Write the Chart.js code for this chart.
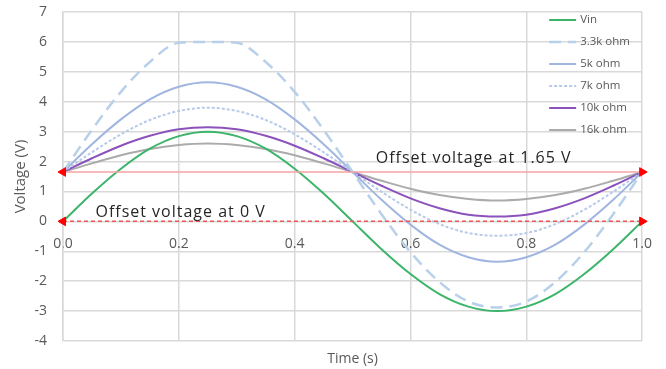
<!DOCTYPE html>
<html>
<head>
<meta charset="utf-8">
<script src="https://cdn.jsdelivr.net/npm/chart.js@4.4.1/dist/chart.umd.min.js"></script>
<style>
  html, body { margin: 0; padding: 0; background: #fff; }
  #wrap { width: 666px; height: 369px; }
</style>
</head>
<body>
<div id="wrap"><canvas id="chart_1" width="666" height="369"></canvas></div>
<script>
// time samples (s)
let times = [0, 0.05, 0.1, 0.15, 0.2, 0.25, 0.3, 0.35, 0.4, 0.45, 0.5,
             0.55, 0.6, 0.65, 0.7, 0.75, 0.8, 0.85, 0.9, 0.95, 1.0];

// voltages (V)
let vin   = [0, 0.93, 1.76, 2.43, 2.85, 3.0, 2.85, 2.43, 1.76, 0.93, 0, -0.93, -1.76, -2.43, -2.85, -3.0, -2.85, -2.43, -1.76, -0.93, 0];
let r3k3  = [1.65, 3.06, 4.33, 5.33, 5.97, 6.0, 5.97, 5.33, 4.33, 3.06, 1.65, 0.24, -1.03, -2.03, -2.68, -2.88, -2.68, -2.03, -1.03, 0.24, 1.65];
let r5k   = [1.65, 2.58, 3.41, 4.08, 4.50, 4.65, 4.50, 4.08, 3.41, 2.58, 1.65, 0.72, -0.11, -0.78, -1.20, -1.35, -1.20, -0.78, -0.11, 0.72, 1.65];
let r7k   = [1.65, 2.31, 2.91, 3.39, 3.69, 3.80, 3.69, 3.39, 2.91, 2.31, 1.65, 0.99, 0.39, -0.09, -0.39, -0.48, -0.39, -0.09, 0.39, 0.99, 1.65];
let r10k  = [1.65, 2.11, 2.53, 2.86, 3.08, 3.15, 3.08, 2.86, 2.53, 2.11, 1.65, 1.19, 0.77, 0.44, 0.22, 0.16, 0.22, 0.44, 0.77, 1.19, 1.65];
let r16k  = [1.65, 1.94, 2.21, 2.42, 2.55, 2.60, 2.55, 2.42, 2.21, 1.94, 1.65, 1.36, 1.09, 0.88, 0.75, 0.70, 0.75, 0.88, 1.09, 1.36, 1.65];

let offsetHigh = [1.65, 1.65];
let offsetLow  = [0, 0];
let offsetTimes = [0, 1.0];

let seriesNames = ['Vin', '3.3k ohm', '5k ohm', '7k ohm', '10k ohm', '16k ohm'];
let yTicks = [-4, -3, -2, -1, 0, 1, 2, 3, 4, 5, 6, 7];

const FONT = '"Open Sans", Lato, sans-serif';
const GRID = '#d9d9d9';

function pts(xs, ys) {
    return xs.map((t, i) => ({x: t, y: ys[i]}));
}

function curve(label, ys, color, width, dash) {
    return {
        label: label,
        data: pts(times, ys),
        borderColor: color,
        backgroundColor: color,
        borderWidth: width,
        borderDash: dash,
        pointRadius: 0,
        fill: false,
        cubicInterpolationMode: 'monotone',
        order: 2
    };
}

function offsetLine(ys, color, dash) {
    return {
        label: '',
        data: pts(offsetTimes, ys),
        borderColor: color,
        borderWidth: 1.5,
        borderDash: dash,
        pointStyle: 'triangle',
        pointRadius: 5,
        pointRotation: [-90, 90],
        pointBackgroundColor: '#ff0000',
        pointBorderColor: '#ff0000',
        pointBorderWidth: 1,
        fill: false,
        clip: false,
        order: 1
    };
}

// legend and text labels drawn inside the plot area
const overlay = {
    id: 'overlay',
    afterDatasetsDraw(chart) {
        const ctx = chart.ctx;
        const area = chart.chartArea;
        const xs = chart.scales.x, ys = chart.scales.y;
        ctx.save();
        // legend
        ctx.font = '11.5px ' + FONT;
        ctx.textBaseline = 'middle';
        ctx.textAlign = 'left';
        chart.data.datasets.forEach((ds, i) => {
            if (!ds.label) return;
            const y = area.top + 8 + i * 22;
            const x0 = area.right - 93;
            ctx.beginPath();
            ctx.strokeStyle = ds.borderColor;
            ctx.lineWidth = ds.borderWidth;
            ctx.setLineDash(ds.borderDash || []);
            ctx.moveTo(x0, y);
            ctx.lineTo(x0 + 27, y);
            ctx.stroke();
            ctx.setLineDash([]);
            ctx.fillStyle = '#595959';
            ctx.fillText(ds.label, x0 + 31, y);
        });
        // offset labels
        ctx.font = '16px ' + FONT;
        ctx.letterSpacing = '1px';
        ctx.fillStyle = '#262626';
        ctx.fillText('Offset voltage at 1.65 V', xs.getPixelForValue(0.54), ys.getPixelForValue(2.1));
        ctx.fillText('Offset voltage at 0 V', xs.getPixelForValue(0.056), ys.getPixelForValue(0.3));
        ctx.restore();
    }
};

var chart1 = new Chart(document.getElementById('chart_1'), {
    type: 'line',
    data: {
        datasets: [
            curve(seriesNames[0], vin, '#3cb56a', 2, []),
            curve(seriesNames[1], r3k3, '#b8d0ea', 2.5, [12, 7]),
            curve(seriesNames[2], r5k, '#a0b6e0', 2, []),
            curve(seriesNames[3], r7k, '#b8cae9', 2, [3, 2]),
            curve(seriesNames[4], r10k, '#8c52bc', 2, []),
            curve(seriesNames[5], r16k, '#ababab', 2, []),
            offsetLine(offsetHigh, '#f5a3a3', []),
            offsetLine(offsetLow, '#ee5555', [4, 3])
        ]
    },
    options: {
        responsive: false,
        animation: false,
        layout: {
            padding: {left: 0, right: 22, top: 12, bottom: 0}
        },
        plugins: {
            legend: {display: false},
            tooltip: {enabled: false}
        },
        scales: {
            x: {
                type: 'linear',
                min: 0,
                max: 1,
                position: {y: 0},
                afterFit: (s) => { s.height = 0; },
                grid: {color: GRID, lineWidth: 1.5, drawTicks: false},
                border: {display: false},
                ticks: {
                    stepSize: 0.2,
                    padding: 14,
                    color: '#595959',
                    font: {family: FONT, size: 14},
                    callback: (v) => v.toFixed(1)
                }
            },
            xt: {
                type: 'linear',
                min: 0,
                max: 1,
                position: 'bottom',
                grid: {display: false},
                border: {display: false},
                ticks: {display: false},
                afterFit: (s) => { s.height = 28; },
                title: {
                    display: true,
                    text: 'Time (s)',
                    color: '#595959',
                    font: {family: FONT, size: 14},
                    padding: {top: 2, bottom: 2}
                }
            },
            y: {
                min: yTicks[0],
                max: yTicks[yTicks.length - 1],
                afterFit: (s) => { s.width = 63; s.paddingTop = 0; s.paddingBottom = 0; },
                afterBuildTicks: (s) => { s.ticks = yTicks.map(v => ({value: v})); },
                grid: {color: GRID, lineWidth: 1.5, drawTicks: false},
                border: {color: GRID, width: 1.5},
                ticks: {
                    padding: 16,
                    color: '#595959',
                    font: {family: FONT, size: 14}
                },
                title: {
                    display: true,
                    text: 'Voltage (V)',
                    color: '#595959',
                    font: {family: FONT, size: 15},
                    padding: {top: 12, bottom: 0}
                }
            }
        }
    },
    plugins: [overlay]
});
</script>
</body>
</html>
